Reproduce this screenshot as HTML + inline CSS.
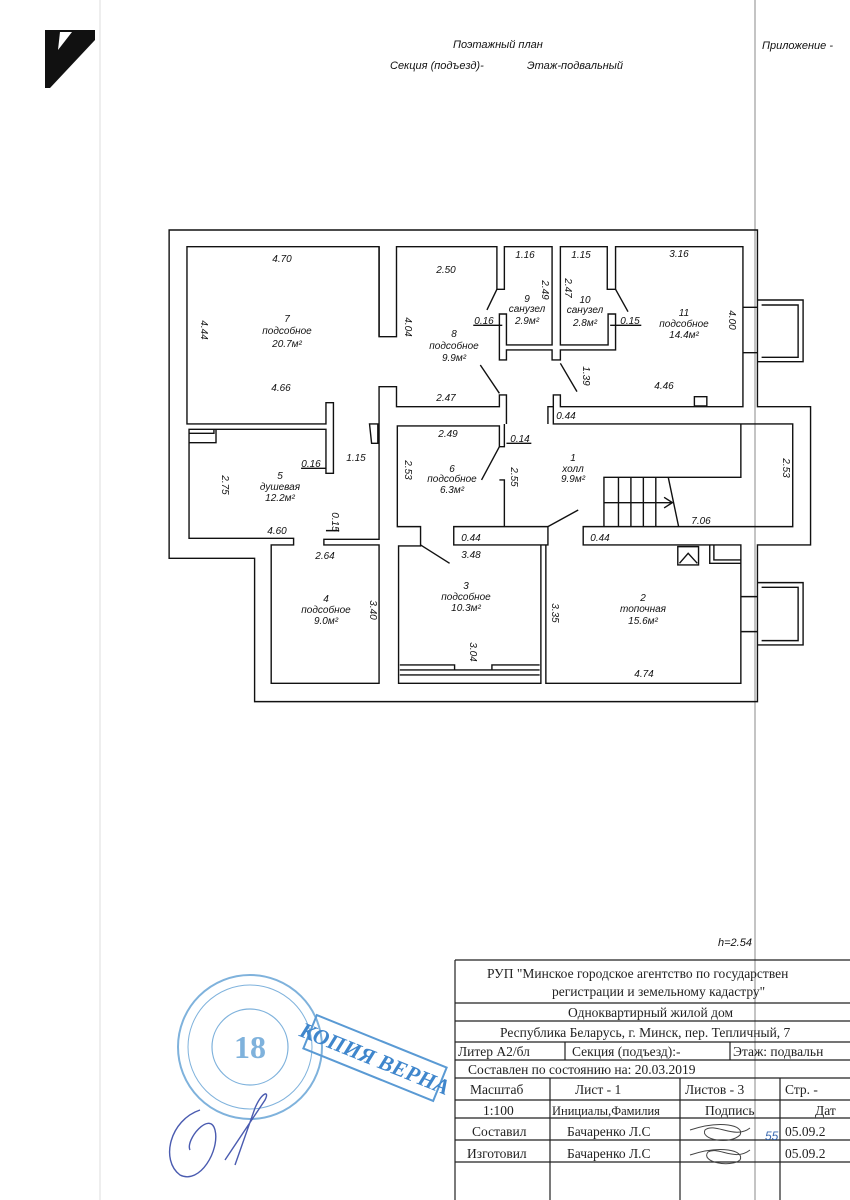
<!DOCTYPE html>
<html><head><meta charset="utf-8"><style>
html,body{margin:0;padding:0;background:#fff;}
svg{display:block;}
.t{font-family:"Liberation Sans",sans-serif;font-style:italic;font-size:10px;fill:#111;}
.h{font-family:"Liberation Sans",sans-serif;font-style:italic;font-size:11px;fill:#111;}
.s{font-family:"Liberation Serif",serif;font-size:13.5px;fill:#222;}
</style></head><body>
<svg width="850" height="1200" viewBox="0 0 850 1200" xmlns="http://www.w3.org/2000/svg">
<rect width="850" height="1200" fill="#fff"/>
<!-- margins -->
<line x1="755" y1="0" x2="755" y2="1200" stroke="#888" stroke-width="1"/>
<line x1="100" y1="0" x2="100" y2="1200" stroke="#ddd" stroke-width="1"/>
<polygon points="45,30 95,30 95,40 50,88 45,88" fill="#111"/>
<polygon points="60,32 72,32 58,50" fill="#fff"/>
<text class="h" x="453" y="48">Поэтажный план</text>
<text class="h" x="390" y="69">Секция (подъезд)-</text>
<text class="h" x="527" y="69">Этаж-подвальный</text>
<text class="h" x="762" y="49">Приложение -</text>
<text class="h" x="718" y="946" font-size="10">h=2.54</text>

<!-- plan in zoom coords -->
<g transform="translate(160,220) scale(0.4149,0.3333)" fill="none" stroke="#111" stroke-width="1.4">
<g vector-effect="non-scaling-stroke">
<path vector-effect="non-scaling-stroke" d="M22,30 H1440 V560 H1568 V975 H1440 V1445 H228 V1015 H22 Z"/>
<!-- room 7/5 -->
<path vector-effect="non-scaling-stroke" d="M528,350 V80 H65 V612 H400 V548 H418 V760 H400 V628 H70 V955 H322 V975 H268 V1390 H528 V975 H395 V958 H528 V500 H570 V560 H818 V525 H835 V612"/>
<path vector-effect="non-scaling-stroke" d="M528,80 V350 H570 V80 H812 V208 H830 V80 H945 V375 H835 V282 H818 V420 H835 V390 H945 V420 H965 V390 H1098 V282 H1080 V375 H965 V80 H1078 V208 H1098 V80 H1405 V262 H1440 M1405,262 V398 H1440 M1405,398 V560 H965 V525 H948 V612 H1525 V920 H1020 V975 H1400 V1130 H1440 M1400,1130 V1235 H1440 M1400,1235 V1390 H930 V975 H918 V1390 H575 V978 H628 V920 H572 V618 H818 V680 H830 V612 M818,780 H830 V920 H935 V975 H708 V920 H830"/>
<path vector-effect="non-scaling-stroke" d="M948,560 H935 V612 M70,640 H130 V628 M70,668 H135 V628 M505,612 H525 V670 H510 Z"/>
<!-- windows -->
<path vector-effect="non-scaling-stroke" d="M1440,240 H1550 V425 H1440 M1450,255 H1538 V412 H1450 M1440,1088 H1550 V1275 H1440 M1450,1102 H1538 V1262 H1450"/>
<!-- shelves room3 -->
<path vector-effect="non-scaling-stroke" d="M578,1335 H710 V1350 M800,1350 V1335 H915 M578,1350 H915 M578,1365 H915"/>
<!-- stairs -->
<path vector-effect="non-scaling-stroke" d="M1400,612 V772 H1070 V920 M1105,772 V920 M1135,772 V920 M1165,772 V920 M1195,772 V920 M1225,772 L1250,920 M1070,848 H1235 M1215,832 L1235,848 L1215,864"/>
<!-- door swings -->
<path vector-effect="non-scaling-stroke" d="M812,208 L788,270 M1098,208 L1128,275 M818,520 L772,435 M965,430 L1005,515 M818,680 L775,780 M935,920 L1008,870 M628,975 L698,1030 M1288,530 H1318 V558 H1288 Z M1248,980 H1298 V1035 H1248 Z M1252,1030 L1273,1000 L1295,1030"/>
<path vector-effect="non-scaling-stroke" d="M1325,975 V1030 H1400 M1335,975 V1020 H1400"/>
<!-- dim leaders -->
<path vector-effect="non-scaling-stroke" d="M755,316 H825 M1085,316 H1160 M835,670 H895 M340,745 H400 M400,932 H432"/>
</g></g>

<!-- labels -->
<g class="t" text-anchor="middle">
<text x="282" y="262">4.70</text>
<text x="287" y="322">7</text><text x="287" y="334">подсобное</text><text x="287" y="347">20.7м²</text>
<text x="281" y="391">4.66</text>
<text x="446" y="273">2.50</text>
<text x="454" y="337">8</text><text x="454" y="349">подсобное</text><text x="454" y="361">9.9м²</text>
<text x="525" y="258">1.16</text><text x="581" y="258">1.15</text><text x="679" y="257">3.16</text>
<text x="527" y="302">9</text><text x="527" y="312">санузел</text><text x="527" y="324">2.9м²</text>
<text x="585" y="303">10</text><text x="585" y="313">санузел</text><text x="585" y="326">2.8м²</text>
<text x="484" y="324">0.16</text><text x="630" y="324">0.15</text>
<text x="684" y="316">11</text><text x="684" y="327">подсобное</text><text x="684" y="338">14.4м²</text>
<text x="664" y="389">4.46</text>
<text x="446" y="401">2.47</text>
<text x="566" y="419">0.44</text>
<text x="448" y="437">2.49</text><text x="520" y="442">0.14</text>
<text x="356" y="461">1.15</text><text x="311" y="467">0.16</text>
<text x="573" y="461">1</text><text x="573" y="472">холл</text><text x="573" y="482">9.9м²</text>
<text x="452" y="472">6</text><text x="452" y="482">подсобное</text><text x="452" y="493">6.3м²</text>
<text x="280" y="479">5</text><text x="280" y="490">душевая</text><text x="280" y="501">12.2м²</text>
<text x="701" y="524">7.06</text><text x="277" y="534">4.60</text>
<text x="471" y="541">0.44</text><text x="600" y="541">0.44</text>
<text x="325" y="559">2.64</text><text x="471" y="558">3.48</text>
<text x="466" y="589">3</text><text x="466" y="600">подсобное</text><text x="466" y="611">10.3м²</text>
<text x="326" y="602">4</text><text x="326" y="613">подсобное</text><text x="326" y="624">9.0м²</text>
<text x="643" y="601">2</text><text x="643" y="612">топочная</text><text x="643" y="624">15.6м²</text>
<text x="644" y="677">4.74</text>
</g>
<g class="t" text-anchor="middle">
<text transform="translate(201,330) rotate(90)">4.44</text>
<text transform="translate(405,327) rotate(90)">4.04</text>
<text transform="translate(542,290) rotate(90)">2.49</text>
<text transform="translate(565,288) rotate(90)">2.47</text>
<text transform="translate(729,320) rotate(90)">4.00</text>
<text transform="translate(583,376) rotate(90)">1.39</text>
<text transform="translate(405,470) rotate(90)">2.53</text>
<text transform="translate(511,477) rotate(90)">2.55</text>
<text transform="translate(783,468) rotate(90)">2.53</text>
<text transform="translate(222,485) rotate(90)">2.75</text>
<text transform="translate(332,522) rotate(90)">0.15</text>
<text transform="translate(370,610) rotate(90)">3.40</text>
<text transform="translate(552,613) rotate(90)">3.35</text>
<text transform="translate(470,652) rotate(90)">3.04</text>
</g>

<!-- title block -->
<g stroke="#222" stroke-width="1.2" fill="none">
<path d="M455,960 H850 M455,960 V1200 M455,1003 H850 M455,1021 H850 M455,1042 H850 M455,1060 H850 M455,1078 H850 M455,1100 H850 M455,1118 H850 M455,1140 H850 M455,1162 H850"/>
<path d="M565,1042 V1060 M730,1042 V1060 M550,1078 V1200 M680,1078 V1200 M780,1078 V1200"/>
</g>
<g class="s">
<text x="487" y="978">РУП "Минское городское агентство по государствен</text>
<text x="552" y="996">регистрации и земельному кадастру"</text>
<text x="568" y="1017">Одноквартирный жилой дом</text>
<text x="500" y="1037">Республика Беларусь, г. Минск, пер. Тепличный, 7</text>
<text x="458" y="1056">Литер А2/бл</text>
<text x="572" y="1056">Секция (подъезд):-</text>
<text x="733" y="1056">Этаж: подвальн</text>
<text x="468" y="1074">Составлен по состоянию на: 20.03.2019</text>
<text x="470" y="1094">Масштаб</text>
<text x="575" y="1094">Лист -       1</text>
<text x="685" y="1094">Листов -   3</text>
<text x="785" y="1094">Стр. -</text>
<text x="483" y="1115">1:100</text>
<text x="552" y="1115" font-size="12.5">Инициалы,Фамилия</text>
<text x="705" y="1115">Подпись</text>
<text x="815" y="1115">Дат</text>
<text x="472" y="1136">Составил</text>
<text x="567" y="1136">Бачаренко Л.С</text>
<text x="785" y="1136">05.09.2</text>
<text x="467" y="1158">Изготовил</text>
<text x="567" y="1158">Бачаренко Л.С</text>
<text x="785" y="1158">05.09.2</text>
</g>
<g stroke="#444" fill="none" stroke-width="1">
<path d="M690,1130 C720,1120 745,1125 740,1135 C730,1145 700,1140 705,1130 C715,1122 735,1140 750,1128"/>
<path d="M690,1155 C720,1145 745,1150 740,1160 C730,1168 700,1162 708,1152 C718,1146 735,1162 750,1150"/>
</g>
<text x="765" y="1140" font-family="Liberation Sans,sans-serif" font-style="italic" font-size="12" fill="#3b6ab0">55</text>

<!-- stamp -->
<g stroke="#7fb2dc" fill="none">
<circle cx="250" cy="1047" r="72" stroke-width="2"/>
<circle cx="250" cy="1047" r="62" stroke-width="1"/>
<circle cx="250" cy="1047" r="38" stroke-width="1.2"/>
</g>
<text x="250" y="1058" text-anchor="middle" font-family="Liberation Serif,serif" font-weight="bold" font-size="32" fill="#7fb2dc">18</text>
<g transform="translate(375,1058) rotate(22)">
<rect x="-70" y="-18" width="140" height="36" fill="none" stroke="#5a9ad4" stroke-width="2"/>
<text x="0" y="8" text-anchor="middle" font-family="Liberation Serif,serif" font-style="italic" font-weight="bold" font-size="22" fill="#3f86cc">КОПИЯ ВЕРНА</text>
</g>
<path d="M200,1110 C170,1120 160,1160 180,1175 C200,1185 220,1150 215,1130 C210,1110 185,1140 190,1150 M225,1160 L265,1100 C270,1090 262,1092 255,1108 L235,1165" stroke="#4a5bb0" fill="none" stroke-width="1.4"/>
</svg>
</body></html>
